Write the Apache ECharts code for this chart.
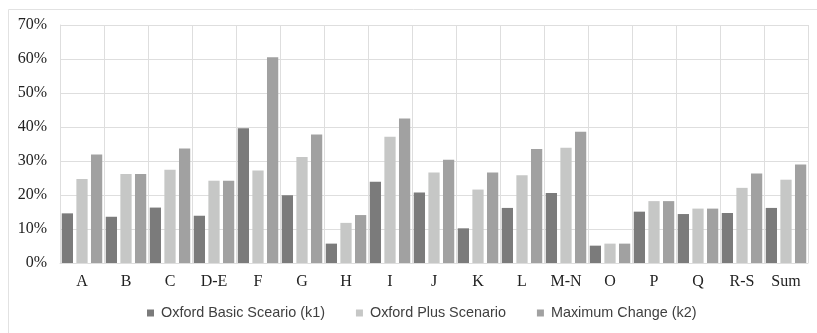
<!DOCTYPE html>
<html>
<head>
<meta charset="utf-8">
<script src="https://cdn.jsdelivr.net/npm/echarts@6/dist/echarts.min.js"></script>
<style>
  html, body { margin: 0; padding: 0; background: #fff; }
  #chart { width: 817px; height: 333px; }
</style>
</head>
<body>
<div id="chart"></div>
<script>
// Sector codes along the x axis
const categories = ['A', 'B', 'C', 'D-E', 'F', 'G', 'H', 'I', 'J', 'K', 'L', 'M-N', 'O', 'P', 'Q', 'R-S', 'Sum'];

// Share of change per sector, in percent
const basicScenario = [14.6, 13.6, 16.3, 13.9, 39.6, 19.9, 5.7, 23.9, 20.7, 10.2, 16.2, 20.6, 5.1, 15.1, 14.4, 14.7, 16.2];
const plusScenario  = [24.7, 26.2, 27.4, 24.2, 27.2, 31.2, 11.8, 37.1, 26.6, 21.6, 25.8, 33.9, 5.7, 18.2, 16.0, 22.1, 24.5];
const maximumChange = [31.9, 26.2, 33.7, 24.2, 60.5, 37.8, 14.1, 42.5, 30.4, 26.6, 33.5, 38.6, 5.7, 18.2, 16.0, 26.3, 29.0];

const seriesNames = ['Oxford Basic Sceario (k1)', 'Oxford Plus Scenario', 'Maximum Change (k2)'];
const yTicks = { min: 0, max: 70, interval: 10 };

const gridColor = '#dedede';
const serif = '"Liberation Serif", "Times New Roman", serif';

const chart = echarts.init(document.getElementById('chart'), null, { renderer: 'canvas' });

chart.setOption({
  animation: false,
  color: ['#7b7b7b', '#c6c7c6', '#a1a1a1'],
  graphic: [{
    type: 'rect',
    shape: { x: 8.5, y: 9.5, width: 900, height: 400 },
    style: { fill: 'none', stroke: '#e2e2e2', lineWidth: 1 },
    silent: true,
    z: -1
  }],
  grid: { left: 60, right: 9, top: 25, bottom: 70, containLabel: false },
  legend: {
    top: 301,
    left: 142,
    itemWidth: 7,
    itemHeight: 7,
    itemGap: 31,
    icon: 'rect',
    textStyle: { fontFamily: '"Liberation Sans", Arial, sans-serif', fontSize: 14.4, color: '#404040', padding: [0, 0, 0, 2] },
    data: seriesNames
  },
  xAxis: {
    type: 'category',
    data: categories,
    boundaryGap: true,
    axisLine: { show: true, lineStyle: { color: gridColor, width: 1 } },
    axisTick: { show: false },
    splitLine: { show: true, lineStyle: { color: gridColor, width: 1 } },
    axisLabel: { fontFamily: serif, fontSize: 16, color: '#222', margin: 11, interval: 0 }
  },
  yAxis: {
    type: 'value',
    min: yTicks.min,
    max: yTicks.max,
    interval: yTicks.interval,
    axisLine: { show: true, lineStyle: { color: gridColor, width: 1 } },
    axisTick: { show: false },
    splitLine: { show: true, lineStyle: { color: gridColor, width: 1 } },
    axisLabel: { formatter: '{value}%', fontFamily: serif, fontSize: 16, color: '#222', margin: 13 }
  },
  series: [
    { name: seriesNames[0], type: 'bar', data: basicScenario, barGap: '30%', barCategoryGap: '8%' },
    { name: seriesNames[1], type: 'bar', data: plusScenario, barGap: '30%', barCategoryGap: '8%' },
    { name: seriesNames[2], type: 'bar', data: maximumChange, barGap: '30%', barCategoryGap: '8%' }
  ]
});
</script>
</body>
</html>
